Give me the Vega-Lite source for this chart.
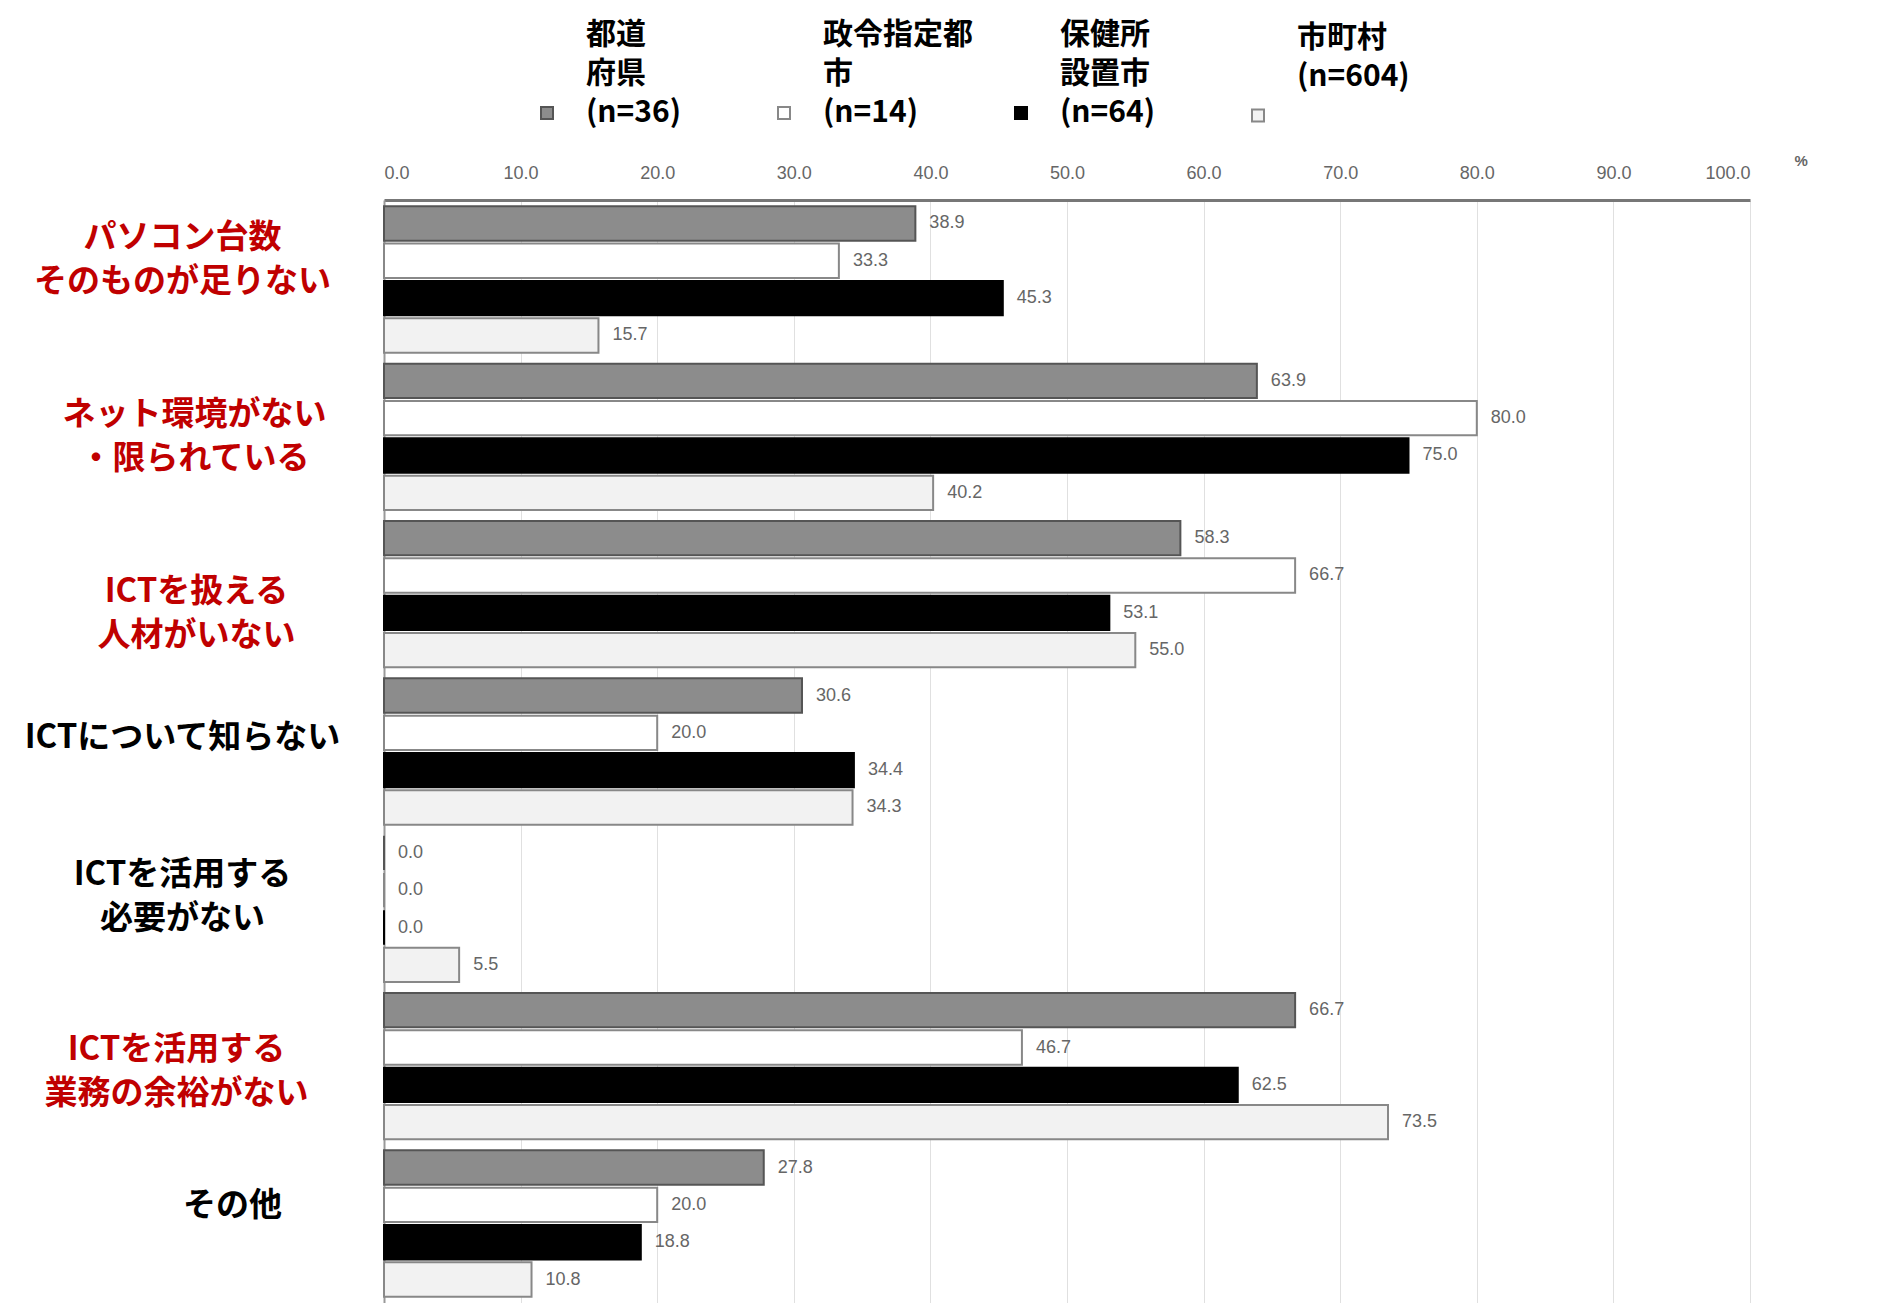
{
  "$schema": "https://vega.github.io/schema/vega-lite/v6.json",
  "width": 1366,
  "height": 1103,
  "autosize": {"type": "none"},
  "padding": {"left": 384, "top": 200, "right": 132, "bottom": 0},
  "background": "white",
  "config": {
    "view": {"stroke": null},
    "font": "Noto Sans CJK JP",
    "style": {"guide-label": {"lineHeight": 39}}
  },
  "data": {
    "values": [
      {"cat": "パソコン台数|そのものが足りない", "series": "都道|府県|(n=36)", "value": 38.9},
      {"cat": "パソコン台数|そのものが足りない", "series": "政令指定都|市|(n=14)", "value": 33.3},
      {"cat": "パソコン台数|そのものが足りない", "series": "保健所|設置市|(n=64)", "value": 45.3},
      {"cat": "パソコン台数|そのものが足りない", "series": "市町村|(n=604)", "value": 15.7},
      {"cat": "ネット環境がない|・限られている", "series": "都道|府県|(n=36)", "value": 63.9},
      {"cat": "ネット環境がない|・限られている", "series": "政令指定都|市|(n=14)", "value": 80.0},
      {"cat": "ネット環境がない|・限られている", "series": "保健所|設置市|(n=64)", "value": 75.0},
      {"cat": "ネット環境がない|・限られている", "series": "市町村|(n=604)", "value": 40.2},
      {"cat": "ICTを扱える|人材がいない", "series": "都道|府県|(n=36)", "value": 58.3},
      {"cat": "ICTを扱える|人材がいない", "series": "政令指定都|市|(n=14)", "value": 66.7},
      {"cat": "ICTを扱える|人材がいない", "series": "保健所|設置市|(n=64)", "value": 53.1},
      {"cat": "ICTを扱える|人材がいない", "series": "市町村|(n=604)", "value": 55.0},
      {"cat": "ICTについて知らない", "series": "都道|府県|(n=36)", "value": 30.6},
      {"cat": "ICTについて知らない", "series": "政令指定都|市|(n=14)", "value": 20.0},
      {"cat": "ICTについて知らない", "series": "保健所|設置市|(n=64)", "value": 34.4},
      {"cat": "ICTについて知らない", "series": "市町村|(n=604)", "value": 34.3},
      {"cat": "ICTを活用する|必要がない", "series": "都道|府県|(n=36)", "value": 0.0},
      {"cat": "ICTを活用する|必要がない", "series": "政令指定都|市|(n=14)", "value": 0.0},
      {"cat": "ICTを活用する|必要がない", "series": "保健所|設置市|(n=64)", "value": 0.0},
      {"cat": "ICTを活用する|必要がない", "series": "市町村|(n=604)", "value": 5.5},
      {"cat": "ICTを活用する|業務の余裕がない", "series": "都道|府県|(n=36)", "value": 66.7},
      {"cat": "ICTを活用する|業務の余裕がない", "series": "政令指定都|市|(n=14)", "value": 46.7},
      {"cat": "ICTを活用する|業務の余裕がない", "series": "保健所|設置市|(n=64)", "value": 62.5},
      {"cat": "ICTを活用する|業務の余裕がない", "series": "市町村|(n=604)", "value": 73.5},
      {"cat": "その他", "series": "都道|府県|(n=36)", "value": 27.8},
      {"cat": "その他", "series": "政令指定都|市|(n=14)", "value": 20.0},
      {"cat": "その他", "series": "保健所|設置市|(n=64)", "value": 18.8},
      {"cat": "その他", "series": "市町村|(n=604)", "value": 10.8}
    ]
  },
  "encoding": {
    "y": {
      "field": "cat",
      "type": "nominal",
      "sort": null,
      "scale": {"paddingInner": 0.07, "paddingOuter": 0.04},
      "axis": {
        "title": null,
        "ticks": false,
        "tickSize": 0,
        "grid": false,
        "domain": true,
        "domainColor": "#999999",
        "domainWidth": 2,
        "labelFont": "Noto Sans CJK JP",
        "labelFontSize": 33,
        "labelFontWeight": "bold",
        "labelLineHeight": 44,
        "labelAlign": "center",
        "labelBaseline": "middle",
        "labelLimit": 400,
        "labelExpr": "split(datum.label, '|')",
        "labelColor": {
          "condition": {"test": "datum.value === 'ICTについて知らない' || datum.value === 'ICTを活用する|必要がない' || datum.value === 'その他'", "value": "#000000"},
          "value": "#c00000"
        },
        "labelPadding": {
          "condition": [
            {"test": "datum.value === 'ネット環境がない|・限られている'", "value": 190},
            {"test": "datum.value === 'ICTを扱える|人材がいない'", "value": 188},
            {"test": "datum.value === 'ICTを活用する|業務の余裕がない'", "value": 208},
            {"test": "datum.value === 'その他'", "value": 152}
          ],
          "value": 202
        },
        "labelOffset": {
          "condition": [
            {"test": "datum.value === 'パソコン台数|そのものが足りない'", "value": -41},
            {"test": "datum.value === 'ネット環境がない|・限られている'", "value": -22},
            {"test": "datum.value === 'ICTを扱える|人材がいない'", "value": -2},
            {"test": "datum.value === 'ICTについて知らない'", "value": -14},
            {"test": "datum.value === 'ICTを活用する|必要がない'", "value": -34},
            {"test": "datum.value === 'ICTを活用する|業務の余裕がない'", "value": -16}
          ],
          "value": -18
        }
      }
    },
    "yOffset": {
      "field": "series",
      "type": "nominal",
      "sort": null,
      "scale": {"paddingInner": 0.08, "paddingOuter": 0}
    },
    "x": {
      "field": "value",
      "type": "quantitative",
      "scale": {"domain": [0, 100], "nice": false},
      "axis": {
        "orient": "top",
        "values": [0, 10, 20, 30, 40, 50, 60, 70, 80, 90, 100],
        "format": ".1f",
        "grid": true,
        "gridColor": "#e0e0e0",
        "gridWidth": 1,
        "ticks": false,
        "tickSize": 0,
        "domain": true,
        "domainColor": "#777777",
        "domainWidth": 3,
        "labelFont": "Liberation Sans",
        "labelFontSize": 18,
        "labelColor": "#666666",
        "labelPadding": 18,
        "title": "%",
        "titleFont": "Liberation Sans",
        "titleFontSize": 15,
        "titleFontWeight": "bold",
        "titleColor": "#666666",
        "titleAngle": 0,
        "titleAlign": "left",
        "titleBaseline": "middle",
        "titleX": 1410,
        "titleY": -40
      }
    }
  },
  "layer": [
    {
      "mark": {"type": "bar", "strokeWidth": 2},
      "encoding": {
        "fill": {
          "field": "series",
          "type": "nominal",
          "sort": null,
          "scale": {"range": ["#8c8c8c", "#ffffff", "#000000", "#f2f2f2"]},
          "legend": {
            "orient": "none",
            "legendX": 148,
            "legendY": -180,
            "direction": "horizontal",
            "columns": 4,
            "columnPadding": 33,
            "gridAlign": "all",
            "title": null,
            "symbolType": "M-1,12L1,12L1,14L-1,14Z",
            "symbolSize": 144,
            "symbolStrokeWidth": 2,
            "labelFont": "Noto Sans CJK JP",
            "labelFontSize": 30,
            "labelFontWeight": "bold",
            "labelColor": "#000000",
            "labelOffset": 24,
            "labelLimit": 400,
            "labelBaseline": "middle",
            "labelExpr": "split(datum.label, '|')"
          }
        },
        "stroke": {
          "field": "series",
          "type": "nominal",
          "sort": null,
          "scale": {"range": ["#555555", "#888888", "#000000", "#888888"]},
          "legend": {
            "orient": "none",
            "legendX": 148,
            "legendY": -180,
            "direction": "horizontal",
            "columns": 4,
            "columnPadding": 33,
            "gridAlign": "all",
            "title": null,
            "symbolType": "M-1,12L1,12L1,14L-1,14Z",
            "symbolSize": 144,
            "symbolStrokeWidth": 2,
            "labelFont": "Noto Sans CJK JP",
            "labelFontSize": 30,
            "labelFontWeight": "bold",
            "labelColor": "#000000",
            "labelOffset": 24,
            "labelLimit": 400,
            "labelBaseline": "middle",
            "labelExpr": "split(datum.label, '|')"
          }
        }
      }
    },
    {
      "mark": {"type": "text", "align": "left", "baseline": "middle", "dx": 14, "fontSize": 18, "font": "Liberation Sans", "color": "#666666"},
      "encoding": {
        "text": {"field": "value", "type": "quantitative", "format": ".1f"}
      }
    }
  ]
}
